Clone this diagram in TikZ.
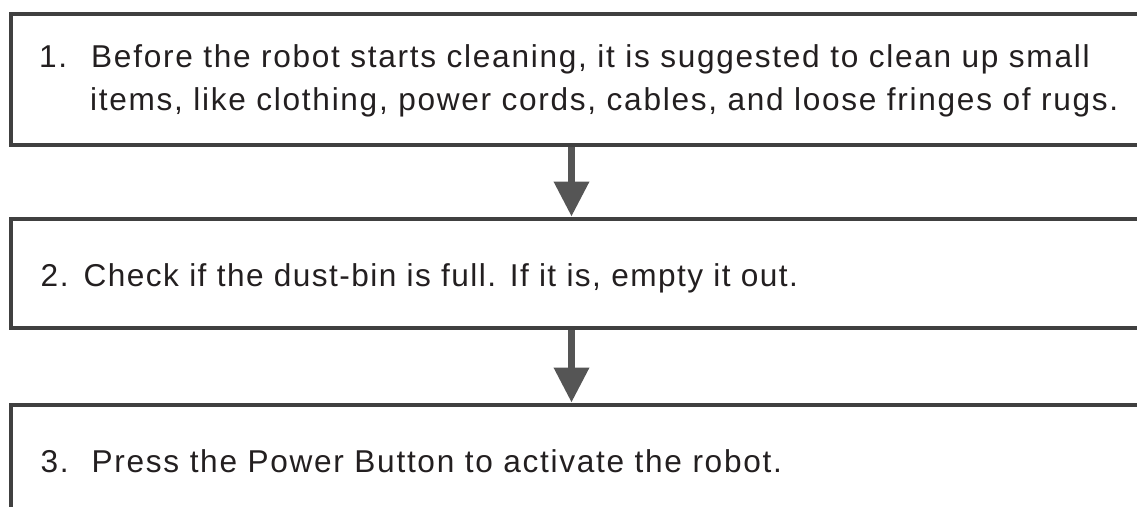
\documentclass[tikz,border=0pt]{standalone}
\usepackage{fontspec}
\setmainfont{Liberation Sans}[LetterSpace=5.4]
\newfontfamily\tightsans{Liberation Sans}[LetterSpace=4.6]
\usetikzlibrary{arrows.meta}
\definecolor{boxline}{HTML}{404040}
\definecolor{arrowcol}{HTML}{555555}
\definecolor{textcol}{HTML}{231F20}
\begin{document}
\begin{tikzpicture}[x=1pt,y=-1pt,
  stepbox/.style={draw=boxline, line width=4pt, rectangle, inner sep=0pt},
  txt/.style={anchor=base west, inner sep=0pt, text=textcol, font=\fontsize{31.6}{37}\selectfont},
  arr/.style={draw=arrowcol, line width=7pt, -{Triangle[width=34pt,length=35pt]}}
]
\useasboundingbox (0,0) rectangle (1137,506);
\clip (0,0) rectangle (1137,506);
\node[stepbox, minimum width=1139pt, minimum height=131pt] (box1) at (580.5,79) {};
\node[stepbox, minimum width=1139pt, minimum height=109pt] (box2) at (580.5,273) {};
\node[stepbox, minimum width=1139pt, minimum height=120pt] (box3) at (580.5,464.5) {};
\node[txt] (n1) at (39,67.5) {1.};
\node[txt] (t1a) at (91,67.5) {Before the robot starts cleaning, it is suggested to clean up small};
\node[txt] (t1b) at (90,110) {items, like clothing, power cords, cables, and loose fringes of rugs.};
\node[txt] (n2) at (40.5,286) {2.};
\node[txt, font=\fontsize{31.6}{37}\tightsans] (t2) at (83.5,286) {Check if the dust-bin is full. If it is, empty it out.};
\node[txt] (n3) at (40.5,472) {3.};
\node[txt] (t3) at (91.5,472) {Press the Power Button to activate the robot.};
\coordinate (ax) at (571.5,0);
\draw[arr] (box1.south -| ax) -- (box2.north -| ax);
\draw[arr] (box2.south -| ax) -- (box3.north -| ax);
\end{tikzpicture}
\end{document}
